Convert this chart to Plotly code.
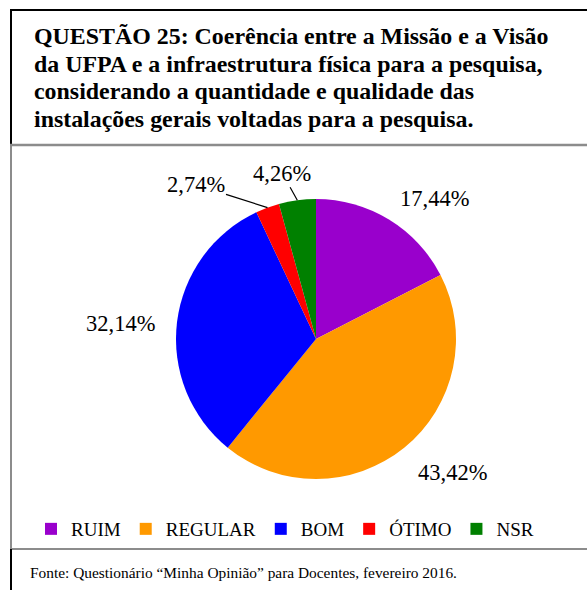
import math
import plotly.graph_objects as go

categories = ["RUIM", "REGULAR", "BOM", "ÓTIMO", "NSR"]
values = [17.44, 43.42, 32.14, 2.74, 4.26]
colors = ["#9900CC", "#FF9900", "#0000FF", "#FF0000", "#008000"]
labels_txt = ["17,44%", "43,42%", "32,14%", "2,74%", "4,26%"]

title_lines = ["QUESTÃO 25: Coerência entre a Missão e a Visão",
               "da UFPA e a infraestrutura física para a pesquisa,",
               "considerando a quantidade e qualidade das",
               "instalações gerais voltadas para a pesquisa."]
footer_text = "Fonte: Questionário “Minha Opinião” para Docentes, fevereiro 2016."

W, H = 587, 590
FONT = "Liberation Serif, Times New Roman, serif"


def px(x):
    return x / W


def py(y):
    return 1 - y / H


# pie geometry (page pixels)
CX, CY, R = 316, 339, 140

# label placement style: offset of label centre from slice edge (px), leader line shown?
label_offsets = [(46, -21), (48, 25), (-57, 1), (-72, -23), (-15, -27)]
leader = [False, False, False, True, True]

fig = go.Figure(go.Pie(
    labels=categories,
    values=values,
    textinfo="none",
    sort=False,
    direction="clockwise",
    rotation=0,
    marker=dict(colors=colors, line=dict(width=0)),
    domain=dict(x=[px(CX - R), px(CX + R)], y=[py(CY + R), py(CY - R)]),
    hoverinfo="label+percent",
))

annotations = []
total = sum(values)
cum = 0.0
for v, t, (ax, ay), ld in zip(values, labels_txt, label_offsets, leader):
    th = 2 * math.pi * (cum + v / 2) / total
    cum += v
    ex = CX + R * math.sin(th)
    ey = CY - R * math.cos(th)
    annotations.append(dict(
        text=t, x=px(ex), y=py(ey), xref="paper", yref="paper",
        showarrow=True, ax=ax, ay=ay, arrowhead=0, arrowwidth=1.2, standoff=0,
        arrowcolor="black" if ld else "rgba(0,0,0,0)",
        font=dict(family=FONT, size=22.5, color="black"),
    ))

title_y = [36, 64, 91, 119]
for line, yy in zip(title_lines, title_y):
    annotations.append(dict(
        text=line, x=px(32), y=py(yy), xref="paper", yref="paper",
        xanchor="left", yanchor="middle", align="left", showarrow=False,
        font=dict(family=FONT, size=23.9, color="black", weight="bold")))

annotations.append(dict(
    text=footer_text, x=px(28), y=py(572), xref="paper", yref="paper",
    xanchor="left", yanchor="middle", align="left", showarrow=False,
    font=dict(family=FONT, size=15.4, color="black")))

shapes = [
    dict(type="line", x0=px(10), x1=px(587), y0=py(10), y1=py(10), line=dict(color="black", width=2)),
    dict(type="line", x0=px(11), x1=px(11), y0=py(10), y1=py(145), line=dict(color="black", width=2)),
    dict(type="line", x0=px(10), x1=px(587), y0=py(145), y1=py(145), line=dict(color="#8c8c8c", width=2.5)),
    dict(type="line", x0=px(11), x1=px(11), y0=py(145), y1=py(549), line=dict(color="#8c8c8c", width=2)),
    dict(type="line", x0=px(10), x1=px(587), y0=py(549), y1=py(549), line=dict(color="#8c8c8c", width=2)),
    dict(type="line", x0=px(11), x1=px(11), y0=py(549), y1=py(590), line=dict(color="black", width=2)),
]

fig.update_layout(
    width=W, height=H,
    margin=dict(l=0, r=0, t=0, b=0),
    paper_bgcolor="white",
    plot_bgcolor="white",
    shapes=shapes,
    annotations=annotations,
    showlegend=True,
    legend=dict(orientation="h", x=px(285), xanchor="center", y=py(529), yanchor="middle",
                font=dict(family=FONT, size=19, color="black"), traceorder="normal",
                itemwidth=30),
)

fig.write_html("out.html", config={"displayModeBar": False},
               post_script="document.body.style.margin='0px';")
